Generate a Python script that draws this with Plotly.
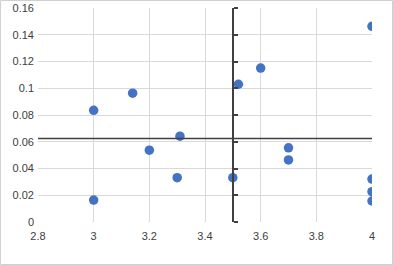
import plotly.graph_objects as go

x_vals = [3.0, 3.0, 3.14, 3.2, 3.31, 3.3, 3.5, 3.52, 3.6, 4.0, 3.7, 3.7, 4.0, 4.0, 4.0]
y_vals = [0.0835, 0.0164, 0.0963, 0.0537, 0.0642, 0.0331, 0.0331, 0.1030, 0.1151, 0.1463, 0.0555, 0.0464, 0.0321, 0.0227, 0.0157]

x_cross = 3.5
y_cross = 0.0625
x_range = [2.8, 4.0]
y_range = [0.0, 0.16]

font = dict(family="Liberation Sans, Arial, sans-serif", size=11, color="#404040")

fig = go.Figure()
fig.add_trace(go.Scatter(
    x=x_vals, y=y_vals, mode="markers",
    marker=dict(color="#4472C4", size=9.5),
    showlegend=False, hoverinfo="skip",
))
# invisible trace to host the crossing vertical axis
fig.add_trace(go.Scatter(x=[x_cross], y=[y_cross], yaxis="y2", mode="markers",
                         marker=dict(opacity=0), showlegend=False, hoverinfo="skip"))

fig.update_layout(
    width=393, height=265,
    margin=dict(l=38, r=21, t=8, b=43, autoexpand=False),
    paper_bgcolor="white", plot_bgcolor="white",
    font=font,
    xaxis=dict(range=x_range, dtick=0.2, tick0=2.8, showgrid=True, gridcolor="#d9d9d9",
               gridwidth=1, zeroline=False, showline=False, ticks="", tickfont=font,
               ticklabelstandoff=6, tickformat="~g", automargin=False),
    yaxis=dict(range=y_range, dtick=0.02, tick0=0, showgrid=True, gridcolor="#d9d9d9",
               gridwidth=1, zeroline=False, showline=False, ticks="", tickfont=font,
               ticklabelstandoff=3, tickformat="~g", automargin=False),
    yaxis2=dict(range=y_range, dtick=0.02, tick0=0, overlaying="y", anchor="free",
                position=(x_cross - x_range[0]) / (x_range[1] - x_range[0]),
                side="right", showgrid=False, zeroline=False, showline=True,
                linecolor="#404040", linewidth=1.5, ticks="outside", ticklen=4,
                tickwidth=1.5, tickcolor="#404040", showticklabels=False,
                automargin=False),
    shapes=[
        dict(type="line", xref="paper", yref="y", x0=0, x1=1, y0=y_cross, y1=y_cross,
             line=dict(color="#404040", width=1.5)),
        dict(type="rect", xref="paper", yref="paper",
             x0=-37.5/334, x1=1 + 20.5/334, y0=-42.5/214, y1=1 + 7.5/214,
             line=dict(color="#d0d0d0", width=1)),
    ],
)

fig.write_html("out.html", config={"displayModeBar": False},
               post_script="document.body.style.margin='0';")
